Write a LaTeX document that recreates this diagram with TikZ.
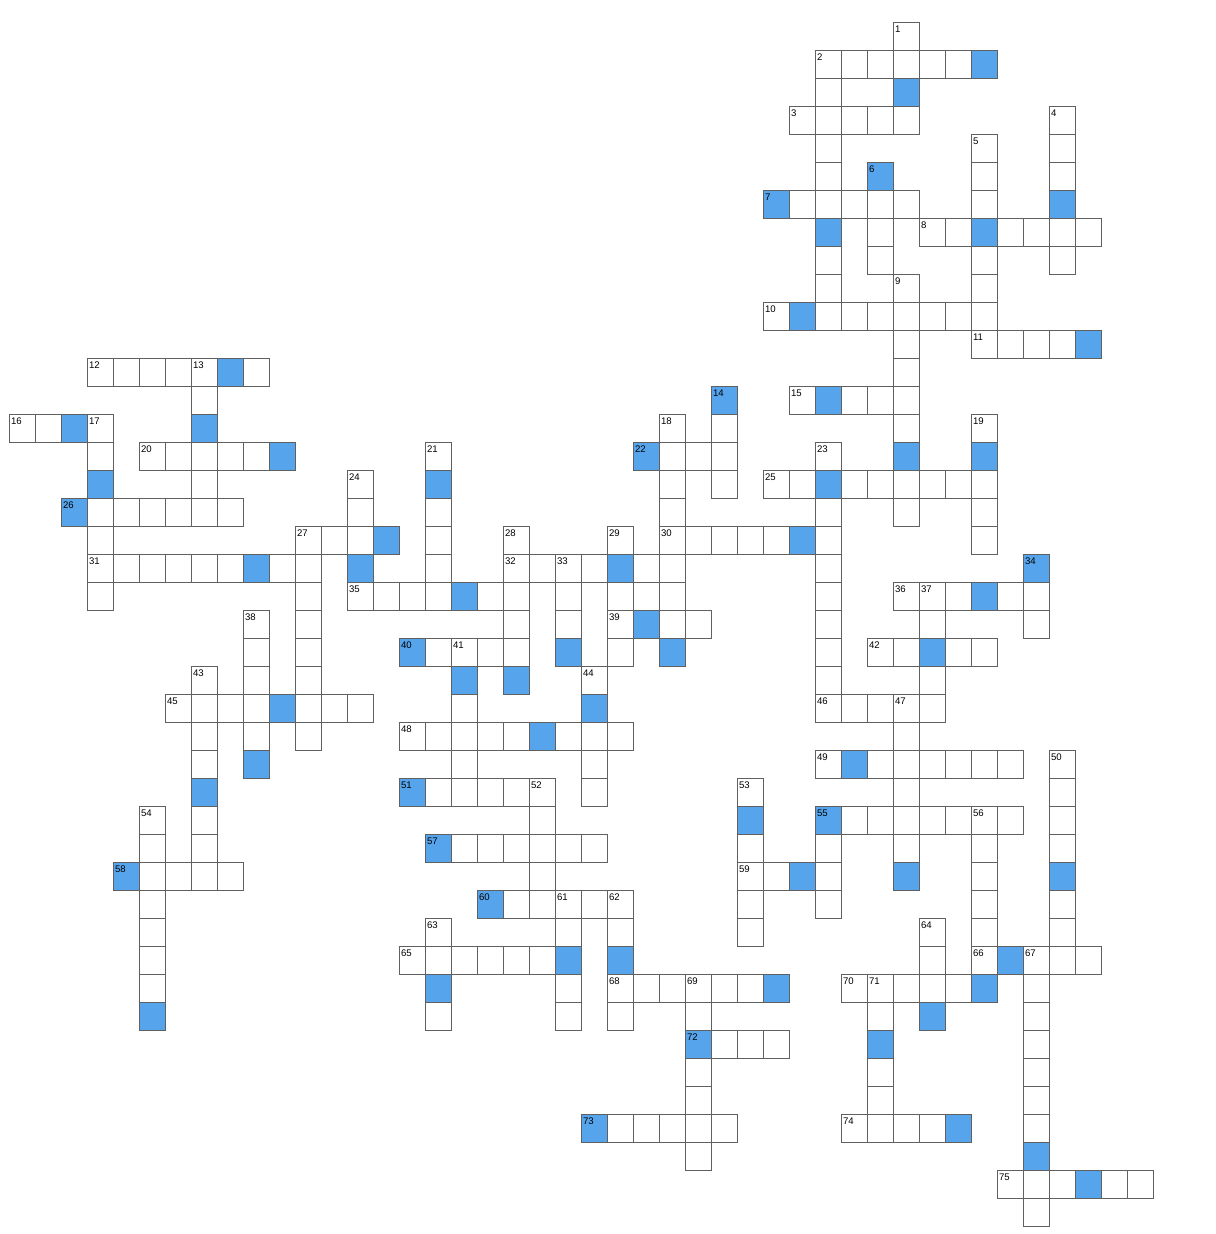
\documentclass[tikz,border=0pt]{standalone}
\usepackage{fontspec}
\setmainfont{Liberation Sans}
\definecolor{gridline}{HTML}{606060}
\definecolor{hintblue}{HTML}{56A5EC}
\tikzset{
    x=19.5pt, y=-21pt, % one square of the grid
    cell/.style={draw=gridline, line width=0.75pt, fill=white, minimum width=19.5pt, minimum height=21pt, inner sep=0pt, outer sep=0pt},
    hint/.style={cell, fill=hintblue},
    num/.style={anchor=north west, inner xsep=1.1pt, inner ysep=2.3pt, font=\fontsize{7.2}{7.2}\selectfont},
}
\begin{document}
\begin{tikzpicture}
    \useasboundingbox (-0.358,-0.796) rectangle (46.373,43.275);

    % white squares, row by row
    \foreach \r/\cols in {0/{34}, 1/{31,32,33,34,35,36}, 2/{31}, 3/{30,31,32,33,34,40},
        4/{31,37,40}, 5/{31,37,40}, 6/{30,31,32,33,34,37}, 7/{33,35,36,38,39,40,41},
        8/{31,33,37,40}, 9/{31,34,37}, 10/{29,31,32,33,34,35,36,37}, 11/{34,37,38,39,40},
        12/{3,4,5,6,7,9,34}, 13/{7,30,32,33,34}, 14/{0,1,3,25,27,34,37},
        15/{3,5,6,7,8,9,16,25,26,27,31}, 16/{7,13,25,27,29,30,32,33,34,35,36,37},
        17/{3,4,5,6,7,8,13,16,25,31,34,37}, 18/{3,11,12,13,16,19,23,25,26,27,28,29,31,37},
        19/{3,4,5,6,7,8,10,11,16,19,20,21,22,24,25,31},
        20/{3,11,13,14,15,16,18,19,21,23,24,25,31,34,35,36,38,39},
        21/{9,11,19,21,23,25,26,31,35,39}, 22/{9,11,16,17,18,19,23,31,33,34,36,37},
        23/{7,9,11,22,31,35}, 24/{6,7,8,9,11,12,13,17,31,32,33,34,35},
        25/{7,9,11,15,16,17,18,19,21,22,23,34}, 26/{7,17,22,31,33,34,35,36,37,38,40},
        27/{16,17,18,19,20,22,28,34,40}, 28/{5,7,20,32,33,34,35,36,37,38,40},
        29/{5,7,17,18,19,20,21,22,28,31,34,37,40}, 30/{5,6,7,8,20,28,29,31,37},
        31/{5,19,20,21,22,23,28,31,37,40}, 32/{5,16,21,23,28,35,37,40},
        33/{5,15,16,17,18,19,20,35,37,39,40,41}, 34/{5,21,23,24,25,26,27,28,32,33,34,35,36,39},
        35/{16,21,23,26,33,39}, 36/{27,28,29,39}, 37/{26,33,39}, 38/{26,33,39},
        39/{23,24,25,26,27,32,33,34,35,39}, 40/{26}, 41/{38,39,40,42,43}, 42/{39}}
        \foreach \c in \cols
            \node[cell] (cell-\c-\r) at (\c+0.5,\r+0.5) {};

    % shaded squares
    \foreach \r/\cols in {1/{37}, 2/{34}, 5/{33}, 6/{29,40}, 7/{31,37}, 10/{30}, 11/{41},
        12/{8}, 13/{27,31}, 14/{2,7}, 15/{10,24,34,37}, 16/{3,16,31}, 17/{2}, 18/{14,30},
        19/{9,13,23,39}, 20/{17,37}, 21/{24}, 22/{15,21,25,35}, 23/{17,19}, 24/{10,22},
        25/{20}, 26/{9,32}, 27/{7,15}, 28/{28,31}, 29/{16}, 30/{4,30,34,40}, 31/{18},
        33/{21,23,38}, 34/{16,29,37}, 35/{5,35}, 36/{26,33}, 39/{22,36}, 40/{39}, 41/{41}}
        \foreach \c in \cols
            \node[hint] (cell-\c-\r) at (\c+0.5,\r+0.5) {};

    % clue numbers
    \foreach \c/\r/\n in {34/0/1, 31/1/2, 30/3/3, 40/3/4, 37/4/5, 33/5/6, 29/6/7, 35/7/8,
        34/9/9, 29/10/10, 37/11/11, 3/12/12, 7/12/13, 27/13/14, 30/13/15, 0/14/16, 3/14/17,
        25/14/18, 37/14/19, 5/15/20, 16/15/21, 24/15/22, 31/15/23, 13/16/24, 29/16/25,
        2/17/26, 11/18/27, 19/18/28, 23/18/29, 25/18/30, 3/19/31, 19/19/32, 21/19/33,
        39/19/34, 13/20/35, 34/20/36, 35/20/37, 9/21/38, 23/21/39, 15/22/40, 17/22/41,
        33/22/42, 7/23/43, 22/23/44, 6/24/45, 31/24/46, 34/24/47, 15/25/48, 31/26/49,
        40/26/50, 15/27/51, 20/27/52, 28/27/53, 5/28/54, 31/28/55, 37/28/56, 16/29/57,
        4/30/58, 28/30/59, 18/31/60, 21/31/61, 23/31/62, 16/32/63, 35/32/64, 15/33/65,
        37/33/66, 39/33/67, 23/34/68, 26/34/69, 32/34/70, 33/34/71, 26/36/72, 22/39/73,
        32/39/74, 38/41/75}
        \node[num] at (cell-\c-\r.north west) {\n};
\end{tikzpicture}
\end{document}
